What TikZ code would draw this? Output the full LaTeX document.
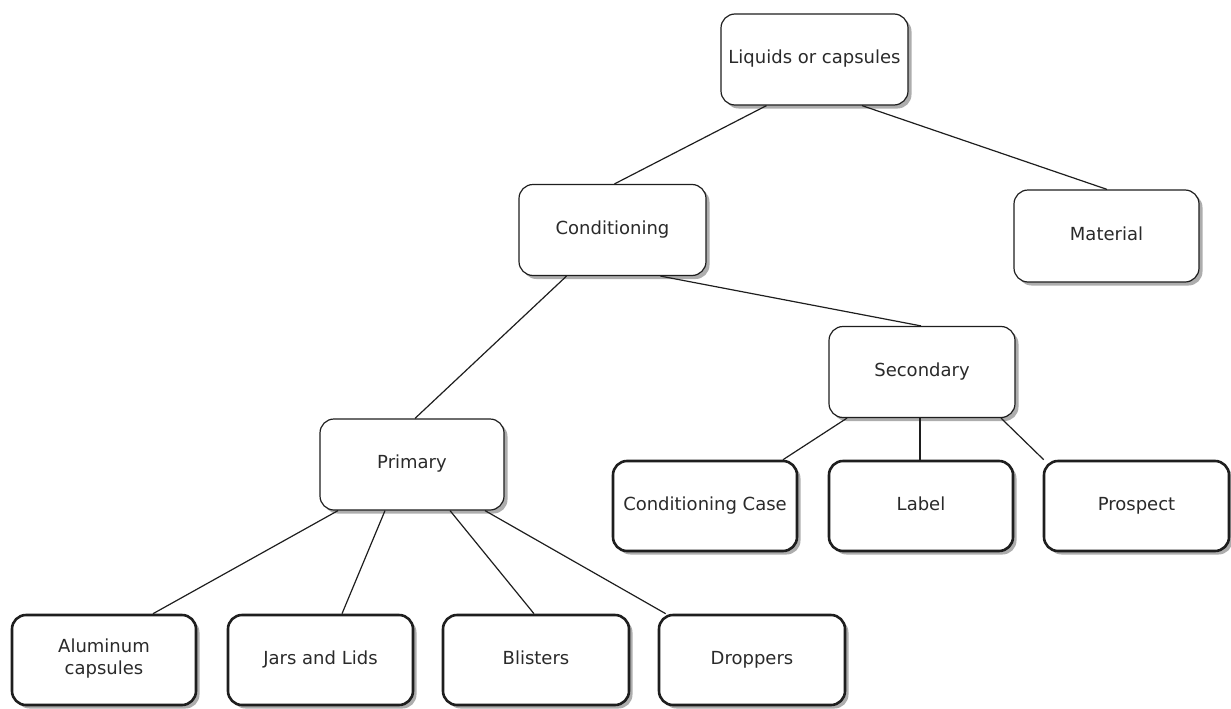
\documentclass[tikz,border=0pt]{standalone}
\usepackage{fontspec}
\setmainfont{DejaVu Sans}
\usetikzlibrary{shadows}
\definecolor{ink}{HTML}{1E1E1E}
\definecolor{txt}{HTML}{2A2A2A}
\tikzset{
  box/.style={draw=ink, line width=1.2pt, rounded corners=14pt, fill=white,
    minimum width=186pt, minimum height=91pt, inner sep=0pt, align=center,
    text=txt, font=\fontsize{18}{22}\selectfont,
    execute at begin node={\strut},
    drop shadow={shadow xshift=3.5pt, shadow yshift=-3.5pt, fill=black!32, opacity=1}},
  leaf/.style={box, line width=2.6pt, minimum width=184pt, minimum height=90pt},
  link/.style={draw=ink, line width=1.2pt}
}
\begin{document}
\begin{tikzpicture}[x=1pt,y=-1pt]
\useasboundingbox (0,0) rectangle (1231,709);
% tree nodes
\node[box, minimum width=187pt] (liq)  at (814.5,59.5) {Liquids or capsules};
\node[box, minimum width=187pt] (cond) at (612.5,230)  {Conditioning};
\node[box, minimum width=185pt, minimum height=92pt] (mat) at (1106.5,236) {Material};
\node[box] (sec)  at (922,372)    {Secondary};
\node[box, minimum width=184pt] (prim) at (412,464.5) {Primary};
\node[leaf] (cc)   at (705,506)    {Conditioning Case};
\node[leaf] (lab)  at (921,506)    {Label};
\node[leaf, minimum width=185pt] (pros) at (1136.5,506) {Prospect};
\node[leaf] (alu)  at (104,660)    {Aluminum\\capsules};
\node[leaf, minimum width=185pt] (jars) at (320.5,660) {Jars and Lids};
\node[leaf, minimum width=186pt] (bli)  at (536,660) {Blisters};
\node[leaf, minimum width=186pt] (drop) at (752,660) {Droppers};
% connectors
\path[link] ([xshift=-48pt]liq.south) -- ([xshift=2pt]cond.north);
\path[link] ([xshift=47.5pt]liq.south) -- ([xshift=0.5pt]mat.north);
\path[link] ([xshift=-46pt]cond.south) -- ([xshift=3pt]prim.north);
\path[link] ([xshift=48pt]cond.south) -- ([xshift=-1pt]sec.north);
\path[link] ([xshift=-75pt]sec.south) -- ([xshift=78pt]cc.north);
\path[link] ([xshift=-2pt]sec.south) -- ([xshift=-1pt]lab.north);
\path[link] ([xshift=79pt]sec.south) -- ([xshift=1pt]pros.north west);
\path[link] ([xshift=-74pt]prim.south) -- ([xshift=49pt]alu.north);
\path[link] ([xshift=-27pt]prim.south) -- ([xshift=21.5pt]jars.north);
\path[link] ([xshift=38pt]prim.south) -- ([xshift=-2pt]bli.north);
\path[link] ([xshift=73pt]prim.south) -- ([xshift=8pt]drop.north west);
\end{tikzpicture}
\end{document}
